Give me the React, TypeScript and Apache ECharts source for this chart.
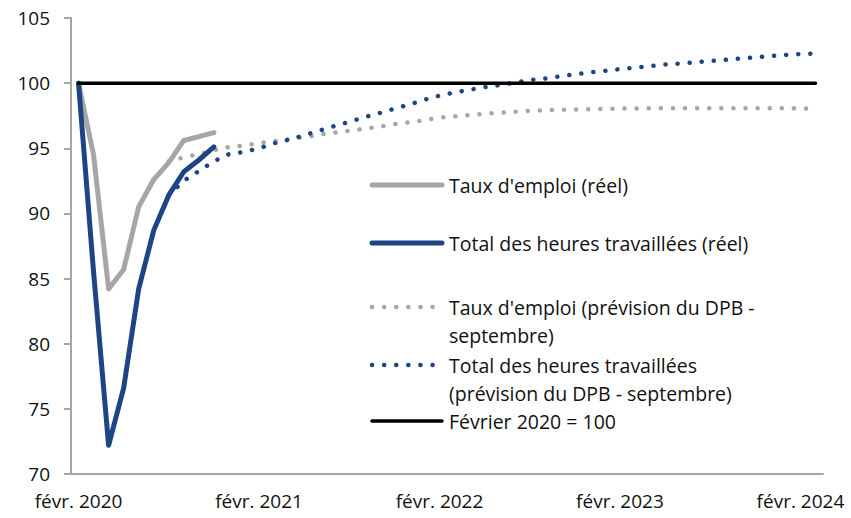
import React, { useEffect, useRef } from "react";
import * as echarts from "echarts";

const monthNames = ["janv.", "févr.", "mars", "avr.", "mai", "juin", "juil.", "août", "sept.", "oct.", "nov.", "déc."];
// Months from Feb 2020 to Mar 2024
const startYear = 2020;
const startMonth = 1; // févr.
const monthCount = 50;
const categories: string[] = [];
for (let i = 0; i < monthCount; i++) {
  const m = (startMonth + i) % 12;
  const y = startYear + Math.floor((startMonth + i) / 12);
  categories.push(`${monthNames[m]} ${y}`);
}

// Actual data (Feb 2020 - Nov 2020)
const employmentActual = [100, 94.5, 84.2, 85.7, 90.5, 92.6, 93.9, 95.6, 95.9, 96.2];
const hoursActual = [100, 85.5, 72.2, 76.6, 84.2, 88.7, 91.4, 93.2, 94.1, 95.1];

// Forecast data (Aug 2020 - Mar 2024), offset 6 months from Feb 2020
const forecastOffset = 6;
const employmentForecast = [
  94.0, 94.3, 94.55, 94.85, 95.1,
  95.2, 95.4, 95.55, 95.7, 95.85, 96.05, 96.2, 96.35, 96.5, 96.65, 96.85, 97.0,
  97.15, 97.35, 97.45, 97.55, 97.65, 97.72, 97.8, 97.87, 97.92, 97.95, 97.98, 98.0,
  98.03, 98.05, 98.06, 98.07, 98.08, 98.08, 98.08, 98.08, 98.08, 98.08, 98.08, 98.08,
  98.07, 98.06, 98.05,
];
const hoursForecast = [
  91.4, 92.5, 93.25, 94.0, 94.55,
  94.72, 95.0, 95.38, 95.67, 96.0, 96.35, 96.7, 97.03, 97.38, 97.7, 98.04, 98.36,
  98.73, 99.04, 99.29, 99.49, 99.69, 99.85, 100.04, 100.24, 100.35, 100.52, 100.68, 100.83,
  100.94, 101.08, 101.19, 101.31, 101.43, 101.5, 101.6, 101.7, 101.79, 101.89, 101.98, 102.08,
  102.16, 102.23, 102.27,
];
const baseValue = 100;

const seriesNames = [
  "Taux d'emploi (réel)",
  "Total des heures travaillées (réel)",
  "Taux d'emploi (prévision du DPB -\nseptembre)",
  "Total des heures travaillées\n(prévision du DPB - septembre)",
  "Février 2020 = 100",
];

const GREY = "#a6a6a6";
const BLUE = "#1d4585";
const TEXT = "#111111";
const FONT = "'Open Sans', 'Noto Sans', sans-serif";

function pad(arr: number[], offset: number): (number | null)[] {
  const out: (number | null)[] = new Array(monthCount).fill(null);
  arr.forEach((v, i) => {
    if (offset + i < monthCount) out[offset + i] = v;
  });
  return out;
}

export default function App() {
  const ref = useRef<HTMLDivElement>(null);
  useEffect(() => {
    document.body.style.margin = "0";
    if (!ref.current) return;
    const chart = echarts.init(ref.current, undefined, { renderer: "svg" });
    const dotted = (color: string) => ({ color, width: 4.5, type: [0.1, 12] as any, cap: "round" as any });
    const legendX1 = 372;
    const legendX2 = 442;
    const textX = 449;
    const items = [
      { y: 185, stroke: GREY, dash: null, width: 5, lines: [seriesNames[0]] },
      { y: 243, stroke: BLUE, dash: null, width: 5, lines: [seriesNames[1]] },
      { y: 307, stroke: GREY, dash: [0.1, 12], width: 4.5, lines: seriesNames[2].split("\n") },
      { y: 365, stroke: BLUE, dash: [0.1, 12], width: 4.5, lines: seriesNames[3].split("\n") },
      { y: 421, stroke: "#000", dash: null, width: 3.5, lines: [seriesNames[4]] },
    ];
    const graphic: any[] = [];
    items.forEach((it) => {
      graphic.push({
        type: "line",
        shape: { x1: legendX1, y1: it.y, x2: legendX2, y2: it.y },
        style: { stroke: it.stroke, lineWidth: it.width, lineDash: it.dash || undefined, lineCap: "round" },
      });
      it.lines.forEach((t, j) => {
        graphic.push({
          type: "text",
          x: textX,
          y: it.y + j * 28,
          style: { text: t, fill: TEXT, fontSize: 19.5, fontFamily: FONT, verticalAlign: "middle", align: "left" },
        });
      });
    });

    chart.setOption({
      animation: false,
      grid: { left: 71, right: 28, top: 18, bottom: 44, containLabel: false },
      xAxis: {
        type: "category",
        data: categories,
        boundaryGap: true,
        axisLine: { lineStyle: { color: GREY, width: 2 } },
        axisTick: { interval: 11, length: 7, lineStyle: { color: GREY, width: 2 } },
        axisLabel: { interval: 11, color: TEXT, fontSize: 19, fontFamily: FONT, margin: 17 },
      },
      yAxis: {
        type: "value",
        min: 70,
        max: 105,
        interval: 5,
        axisLine: { show: true, lineStyle: { color: GREY, width: 2 } },
        axisTick: { show: true, length: 7, lineStyle: { color: GREY, width: 2 } },
        splitLine: { show: false },
        axisLabel: { color: TEXT, fontSize: 19, fontFamily: FONT, margin: 21 },
      },
      graphic,
      series: [
        {
          name: seriesNames[2],
          type: "line",
          data: pad(employmentForecast, forecastOffset),
          symbol: "none",
          lineStyle: dotted(GREY),
        },
        {
          name: seriesNames[3],
          type: "line",
          data: pad(hoursForecast, forecastOffset),
          symbol: "none",
          lineStyle: dotted(BLUE),
        },
        {
          name: seriesNames[0],
          type: "line",
          data: pad(employmentActual, 0),
          symbol: "none",
          lineStyle: { color: GREY, width: 5, cap: "round", join: "round" },
        },
        {
          name: seriesNames[1],
          type: "line",
          data: pad(hoursActual, 0),
          symbol: "none",
          lineStyle: { color: BLUE, width: 5, cap: "round", join: "round" },
        },
        {
          name: seriesNames[4],
          type: "line",
          data: categories.map(() => baseValue),
          symbol: "none",
          lineStyle: { color: "#000", width: 3.5, cap: "round" },
        },
      ],
    });
    return () => chart.dispose();
  }, []);
  return <div ref={ref} style={{ width: 851, height: 518 }} />;
}
